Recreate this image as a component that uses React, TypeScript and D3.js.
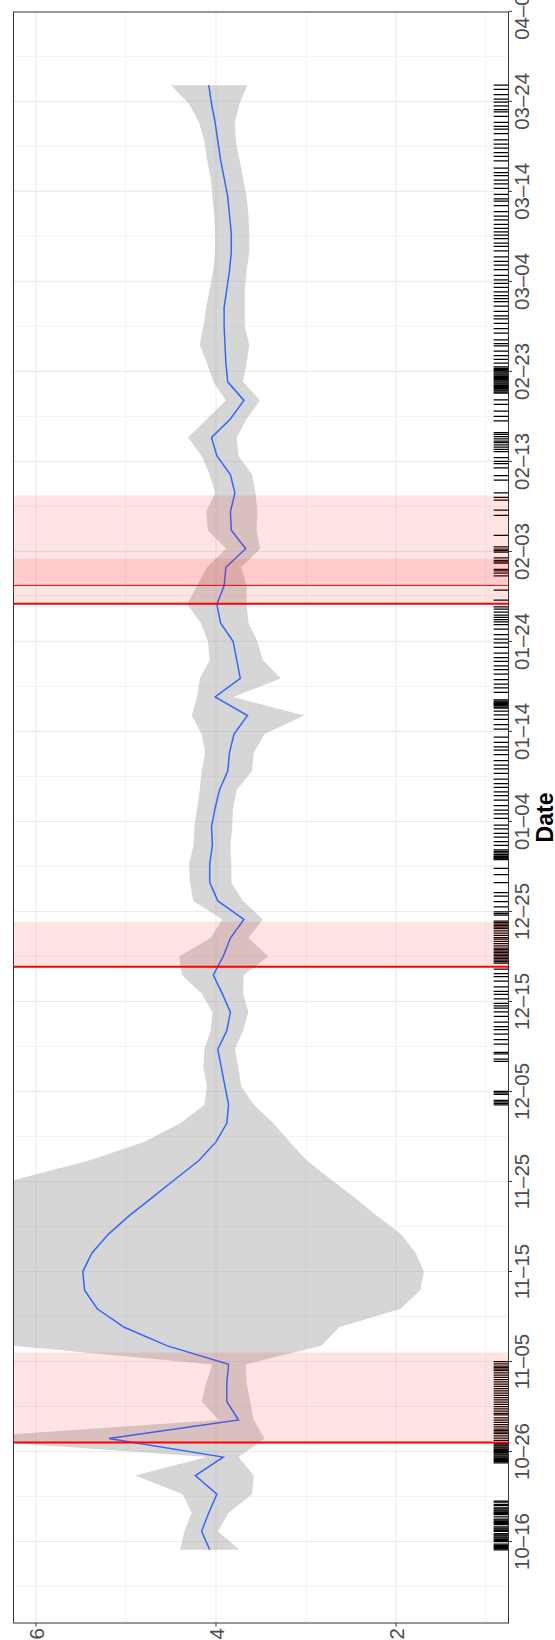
import React from "react";
import * as d3 from "d3";

const W = 555;
const H = 1640;

// geom_smooth output: 80 evenly spaced points over the observed date range
const smoothFit: number[] = [
  4.07, 4.16, 4.08, 3.99, 4.23, 3.92, 5.19, 3.75, 3.88, 3.88,
  3.86, 4.54, 5.02, 5.32, 5.46, 5.48, 5.38, 5.2, 4.97, 4.71,
  4.45, 4.19, 4.0, 3.88, 3.86, 3.9, 3.94, 3.98, 3.88, 3.84,
  3.93, 4.03, 3.92, 3.84, 3.69, 3.98, 4.07, 4.07, 4.04, 4.05,
  4.01, 3.96, 3.87, 3.85, 3.8, 3.65, 4.01, 3.73, 3.77, 3.81,
  3.95, 3.99, 3.91, 3.89, 3.67, 3.83, 3.84, 3.79, 3.84, 3.99,
  4.05, 3.84, 3.69, 3.87, 3.89, 3.9, 3.91, 3.91, 3.88, 3.85,
  3.83, 3.83, 3.85, 3.87, 3.91, 3.95, 3.98, 4.01, 4.05, 4.08,
];
const smoothLower: number[] = [
  3.74, 3.98, 3.86, 3.6, 3.58, 3.75, 3.46, 3.58, 3.62, 3.66,
  3.67, 2.83, 2.63, 1.95, 1.73, 1.69, 1.78, 1.94, 2.21, 2.46,
  2.73, 2.99, 3.18, 3.36, 3.58, 3.72, 3.75, 3.79, 3.7, 3.64,
  3.7, 3.69, 3.42, 3.64, 3.48, 3.7, 3.83, 3.83, 3.84, 3.82,
  3.81, 3.77, 3.6, 3.58, 3.46, 3.02, 3.81, 3.28, 3.48, 3.54,
  3.64, 3.66, 3.66, 3.72, 3.51, 3.55, 3.54, 3.56, 3.6, 3.75,
  3.77, 3.66, 3.51, 3.7, 3.66, 3.63, 3.68, 3.68, 3.68, 3.66,
  3.63, 3.63, 3.64, 3.66, 3.7, 3.74, 3.78, 3.79, 3.74, 3.65,
];
const smoothUpper: number[] = [
  4.4, 4.35, 4.27, 4.37, 4.9, 4.1, 6.92, 3.97, 4.16, 4.11,
  4.04, 6.25, 7.41, 8.69, 9.19, 9.27, 8.97, 8.46, 7.74, 6.96,
  6.2, 5.41, 4.8, 4.4, 4.13, 4.1, 4.14, 4.13, 4.06, 4.04,
  4.16, 4.38, 4.41, 4.06, 3.93, 4.25, 4.29, 4.3, 4.25, 4.24,
  4.21, 4.18, 4.16, 4.12, 4.16, 4.27, 4.21, 4.18, 4.07, 4.09,
  4.17, 4.32, 4.21, 4.1, 3.89, 4.09, 4.11, 4.01, 4.07, 4.16,
  4.31, 4.1, 3.89, 4.03, 4.1, 4.18, 4.14, 4.11, 4.07, 4.03,
  4.01, 4.01, 4.02, 4.04, 4.06, 4.1, 4.13, 4.19, 4.3, 4.5,
];

// observation times (rug): "MM-DD:hours"
const rugLog: string[] = [
  "10-15:2,5,8,11,14,17", "10-16:0,3,6,9,12,15,18,21", "10-17:3,6,9,12,15,21",
  "10-18:0,3,6,9,12,18", "10-19:0,3,6,9,12,15,18", "10-20:0,3,9,12",
  "10-24:18,21", "10-25:0,3,6,9,12,15,18,21", "10-26:0,3,6,9,12,15,18,21",
  "10-27:0,6,12,18", "10-28:0,4,8,12,18", "10-29:0,6,12,18", "10-30:2,6,12,18",
  "10-31:0,6,12,18", "11-01:0,6,12,18", "11-02:0,6,12,18", "11-03:0,6,12,18",
  "11-04:0,4,8,12,18", "11-05:0",
  "12-03:12,16,20", "12-04:0,16,20", "12-05:0", "12-08:8,14", "12-09:4,8",
  "12-10:6,18", "12-11:9,21", "12-12:5,17", "12-13:8,20", "12-14:6,12,19",
  "12-15:7,19", "12-16:3,15", "12-17:6,18", "12-18:2,14", "12-19:6,10,14,18,22",
  "12-20:2,6,10,14,18,22", "12-21:4,10,16,22", "12-22:2,8,14,20",
  "12-23:2,6,10,14,18,22", "12-24:14,18,23", "12-25:12", "12-26:2,17",
  "12-27:2", "12-28:5", "12-29:2,19", "12-30:18,20,22", "12-31:0,2,4,8,12,16,20",
  "01-01:8,18", "01-02:6,16", "01-03:4,14", "01-04:8,20", "01-05:6,18",
  "01-06:9,21", "01-07:7,19", "01-08:5,17", "01-09:8,20", "01-10:6,18",
  "01-11:10,22", "01-12:7,19", "01-13:9", "01-14:6,18", "01-15:8,20",
  "01-16:6,14,17,20,22", "01-17:0,2,4,6,9,12", "01-18:8,20", "01-19:6,18",
  "01-20:9,21", "01-21:7,19", "01-22:5,17", "01-23:8,20", "01-24:6,18",
  "01-25:9,21", "01-26:4,10,16,22", "01-27:6,14,20", "01-28:14", "01-29:17",
  "01-31:7,14,20", "02-01:0,17,20", "02-02:0,7,22", "02-03:2,6,12", "02-04:19",
  "02-07:0,14", "02-08:17", "02-09:0,12", "02-10:22", "02-11:10", "02-12:7,18",
  "02-13:0,10", "02-14:2,8,14,20", "02-15:2,6,12,18", "02-16:0,5", "02-17:12",
  "02-18:0,14", "02-19:8,20", "02-20:14,17,20,23", "02-21:2,5,8,11,14,17,20,23",
  "02-22:2,5,8,11,14,17,20,23", "02-23:2,5,8,12,22", "02-24:8,18", "02-25:6,20",
  "02-26:2,12", "02-27:6,18", "02-28:8,20", "02-29:4,16",
  "03-01:6,18", "03-02:2,10,20", "03-03:8,19", "03-04:4,16", "03-05:7,19",
  "03-06:5,17", "03-07:9,21", "03-08:6,18", "03-09:3,12,21", "03-10:8,20",
  "03-11:6,18", "03-12:10,22", "03-13:4,16", "03-14:8,20", "03-15:6,18",
  "03-16:2,14", "03-17:9,21", "03-18:7,19", "03-19:6,17", "03-20:10,22",
  "03-21:5,16", "03-22:8,20", "03-23:2,12,22", "03-24:6,18", "03-25:8,19",
];

const dateTickLabels: string[] = [
  "10–16", "10–26", "11–05", "11–15", "11–25", "12–05", "12–15", "12–25",
  "01–04", "01–14", "01–24", "02–03", "02–13", "02–23", "03–04", "03–14",
  "03–24", "04–03",
];
const valueLimits: number[] = [1, 6];
const valueMajor: number[] = [2, 4, 6];
const valueMinor: number[] = [1, 3, 5];

// events (vertical lines) and the windows shaded after them
const eventTimes: string[] = ["2019-10-27T00:00", "2019-12-18T20:40", "2020-01-28T04:20", "2020-01-30T05:20"];
const eventKinds: string[] = ["major", "major", "major", "minor"];
const eventWindowDays: number[] = [10, 5, 5, 10];

const DAY = 86400000;
const yearOf = (m: number) => (m >= 10 ? 2019 : 2020);
const parseMD = (md: string, h = 0) => {
  const [m, d] = md.split(/[-–]/).map(Number);
  return new Date(Date.UTC(yearOf(m), m - 1, d, h));
};
const parseRug = (s: string) => {
  const [md, hs] = s.split(":");
  return hs.split(",").map((h) => parseMD(md, +h));
};

export default function App() {
  const PL = 13.5, PR = 508.5, PT = 12, PB = 1623;

  const rugTimes = rugLog.flatMap(parseRug);
  const tMin = +d3.min(rugTimes)!;
  const tMax = +d3.max(rugTimes)!;
  const span = tMax - tMin;
  const y = d3
    .scaleUtc()
    .domain([new Date(tMin - 0.05 * span), new Date(tMax + 0.05 * span)])
    .range([PB, PT]);
  const vSpan = valueLimits[1] - valueLimits[0];
  const x = d3
    .scaleLinear()
    .domain([valueLimits[0] - 0.05 * vSpan, valueLimits[1] + 0.05 * vSpan])
    .range([PR, PL]);

  const pts = smoothFit.map((v, i) => ({
    t: new Date(tMin + (span * i) / (smoothFit.length - 1)),
    fit: v,
    lo: smoothLower[i],
    hi: smoothUpper[i],
  }));

  const area = d3
    .area<any>()
    .y((d) => y(d.t))
    .x0((d) => x(d.lo))
    .x1((d) => x(d.hi));
  const line = d3
    .line<any>()
    .x((d) => x(d.fit))
    .y((d) => y(d.t));

  const [d0, d1] = y.domain().map(Number);
  const majorDates = dateTickLabels.map((l) => parseMD(l));
  const minorSet = new Set<number>();
  majorDates.forEach((d) => {
    [-5, 5].forEach((k) => {
      const t = +d + k * DAY;
      if (t >= d0 && t <= d1) minorSet.add(t);
    });
  });
  const minorDates = Array.from(minorSet);

  const events = eventTimes.map((s, i) => ({
    t: new Date(s + ":00Z"),
    kind: eventKinds[i],
    end: new Date(+new Date(s + ":00Z") + eventWindowDays[i] * DAY),
  }));

  const rugLen = 0.03 * (PR - PL);
  const font = "'Liberation Sans', Arial, Helvetica, sans-serif";

  return (
    <svg
      width={W}
      height={H}
      viewBox={`0 0 ${W} ${H}`}
      style={{ position: "absolute", left: 0, top: 0, display: "block", background: "#fff" }}
    >
      <defs>
        <clipPath id="panel">
          <rect x={PL} y={PT} width={PR - PL} height={PB - PT} />
        </clipPath>
      </defs>
      <rect x={0} y={0} width={W} height={H} fill="#fff" />
      <g clipPath="url(#panel)">
        {valueMinor.map((v) => (
          <line key={"vm" + v} x1={x(v)} x2={x(v)} y1={PT} y2={PB} stroke="#EBEBEB" strokeWidth={0.6} />
        ))}
        {minorDates.map((t) => (
          <line key={"dm" + t} x1={PL} x2={PR} y1={y(new Date(t))} y2={y(new Date(t))} stroke="#EBEBEB" strokeWidth={0.6} />
        ))}
        {valueMajor.map((v) => (
          <line key={"vM" + v} x1={x(v)} x2={x(v)} y1={PT} y2={PB} stroke="#EBEBEB" strokeWidth={1.1} />
        ))}
        {majorDates.map((d, i) => (
          <line key={"dM" + i} x1={PL} x2={PR} y1={y(d)} y2={y(d)} stroke="#EBEBEB" strokeWidth={1.1} />
        ))}
        <path d={area(pts) || ""} fill="#999999" fillOpacity={0.4} />
        <path d={line(pts) || ""} fill="none" stroke="#3366FF" strokeWidth={1.5} />
        {rugTimes.map((t, i) => (
          <line key={"r" + i} x1={PR - rugLen} x2={PR} y1={y(t)} y2={y(t)} stroke="#000" strokeWidth={1.25} />
        ))}
        {events.map((e, i) => (
          <rect
            key={"w" + i}
            x={PL}
            width={PR - PL}
            y={y(e.end)}
            height={y(e.t) - y(e.end)}
            fill="#FF0000"
            fillOpacity={0.105}
          />
        ))}
        {events.map((e, i) => (
          <line
            key={"e" + i}
            x1={PL}
            x2={PR}
            y1={y(e.t)}
            y2={y(e.t)}
            stroke="#FF0000"
            strokeWidth={e.kind === "major" ? 2 : 1}
          />
        ))}
      </g>
      <rect x={PL} y={PT} width={PR - PL} height={PB - PT} fill="none" stroke="#333333" strokeWidth={1} />
      {majorDates.map((d, i) => (
        <g key={"dt" + i}>
          <line x1={PR} x2={PR + 3.5} y1={y(d)} y2={y(d)} stroke="#333333" strokeWidth={1} />
          <text
            transform={`translate(${528.5},${y(d)}) rotate(-90)`}
            textAnchor="middle"
            fontFamily={font}
            fontSize={20.5}
            fill="#4D4D4D"
          >
            {dateTickLabels[i]}
          </text>
        </g>
      ))}
      {valueMajor.map((v) => (
        <g key={"vt" + v}>
          <line x1={x(v)} x2={x(v)} y1={PB} y2={PB + 3.5} stroke="#333333" strokeWidth={1} />
          <text
            transform={`translate(${x(v)},${PB + 5}) rotate(-90)`}
            textAnchor="end"
            dominantBaseline="central"
            fontFamily={font}
            fontSize={20.5}
            fill="#4D4D4D"
          >
            {v}
          </text>
        </g>
      ))}
      <text
        transform={`translate(${553},${(PT + PB) / 2}) rotate(-90)`}
        textAnchor="middle"
        fontFamily={font}
        fontSize={23}
        fontWeight="bold"
        fill="#000"
      >
        Date
      </text>
    </svg>
  );
}
